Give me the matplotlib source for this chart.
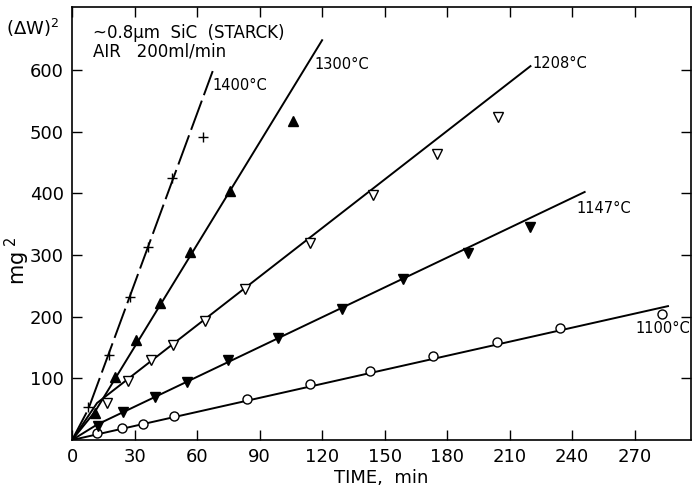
import numpy as np
import matplotlib
matplotlib.use("Agg")
import matplotlib.pyplot as plt

# data: time (min), (dW)^2 (mg^2)
t_1100 = [12, 24, 34, 49, 84, 114, 143, 173, 204, 234, 283]
w_1100 = [11, 19, 26, 39, 67, 91, 112, 136, 159, 181, 205]

t_1147 = [12.5, 24.6, 40, 55, 75, 99, 129.5, 159, 190, 220]
w_1147 = [23, 45, 70, 94, 130, 165, 212, 261, 303, 345]

t_1208 = [16.7, 27, 38, 48.6, 64, 83, 114, 144.5, 175, 204.5]
w_1208 = [60, 96, 129, 154, 193, 245, 320, 397, 464, 523]

t_1300 = [11, 20.6, 30.7, 42, 56.6, 76, 106]
w_1300 = [44, 102, 162, 222, 305, 404, 517]

t_1400 = [7.8, 17.5, 28, 36.6, 48, 62.7]
w_1400 = [53, 138, 231, 313, 424, 491]

# hand-drawn fit lines (vertices)
line_t_1100 = [0, 286]
line_w_1100 = [0, 217]
line_t_1147 = [0, 12, 246]
line_w_1147 = [0, 25, 402]
line_t_1208 = [0, 12, 220]
line_w_1208 = [0, 60, 606]
line_t_1300 = [0, 11, 120]
line_w_1300 = [0, 46, 648]
line_t_1400 = [0, 7.8, 67.5]
line_w_1400 = [0, 50, 598]

fig = plt.figure(figsize=(6.93, 4.93), dpi=100)
ax = fig.add_axes([0.104, 0.1075, 0.893, 0.8785])

k = "black"
for lt, lw_ in [(line_t_1100, line_w_1100), (line_t_1147, line_w_1147),
                (line_t_1208, line_w_1208), (line_t_1300, line_w_1300)]:
    ax.plot(lt, lw_, color=k, lw=1.4, zorder=2)
ax.plot(line_t_1400, line_w_1400, color=k, lw=1.4, dashes=(16, 3), zorder=2)

ax.plot(t_1100, w_1100, "o", ms=6.5, mfc="white", mec=k, mew=1.0, zorder=3)
ax.plot(t_1147, w_1147, "v", ms=7.5, mfc=k, mec=k, zorder=3)
ax.plot(t_1208, w_1208, "v", ms=7.5, mfc="white", mec=k, mew=1.0, zorder=3)
ax.plot(t_1300, w_1300, "^", ms=7.5, mfc=k, mec=k, zorder=3)
ax.plot(t_1400, w_1400, "+", ms=7, color=k, mew=1.0, zorder=3)

ax.set_xlim(0, 297)
ax.set_ylim(0, 702)
ax.set_xticks(np.arange(0, 271, 30))
ax.set_yticks(np.arange(100, 601, 100))
ax.tick_params(direction="in", top=True, right=True, length=7, width=1,
               labelsize=13, pad=6)
for s in ax.spines.values():
    s.set_linewidth(1.2)

fs = 10.5
ax.text(67.5, 575, "1400°C", fontsize=fs, va="center")
ax.text(116.5, 608, "1300°C", fontsize=fs, va="center")
ax.text(221, 611, "1208°C", fontsize=fs, va="center")
ax.text(242, 376, "1147°C", fontsize=fs, va="center")
ax.text(270.5, 181, "1100°C", fontsize=fs, va="center")

ax.text(10, 660, "~0.8μm  SiC  (STARCK)", fontsize=12, va="center")
ax.text(10, 629, "AIR   200ml/min", fontsize=12, va="center")

fig.text(0.008, 0.943, "(ΔW)$^2$", fontsize=13, va="center")
fig.text(0.004, 0.47, "mg$^{\\ 2}$", fontsize=15, rotation=90, va="center")
ax.set_xlabel("TIME,  min", fontsize=13, labelpad=2)

fig.savefig("out.png", dpi=100)
